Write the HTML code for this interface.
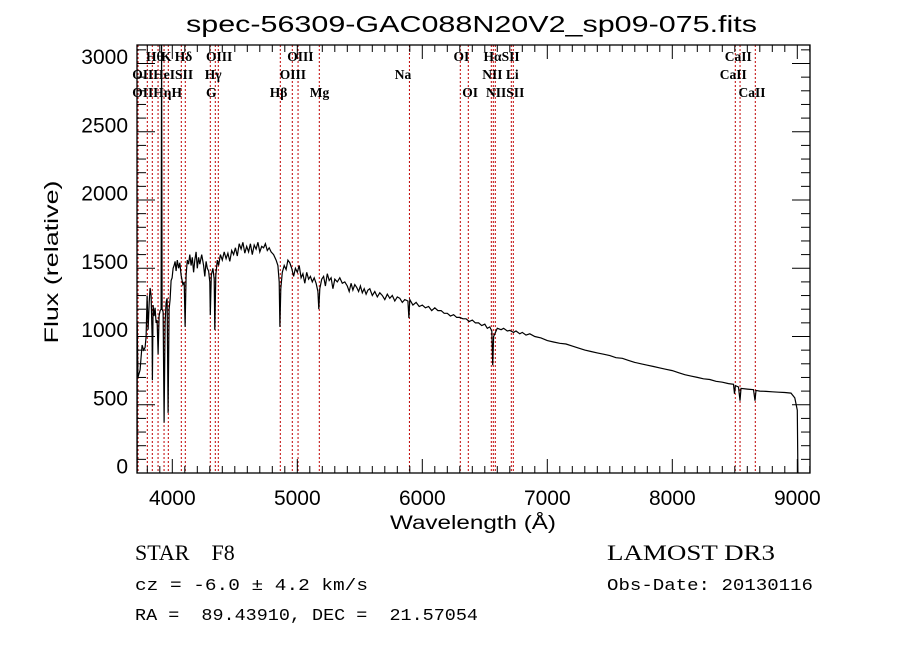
<!DOCTYPE html>
<html><head><meta charset="utf-8"><style>
html,body{margin:0;padding:0;background:#fff;}
svg{display:block;}
.t{font-family:"Liberation Sans",sans-serif;}
.s{font-family:"Liberation Serif",serif;}
.m{font-family:"Liberation Mono",monospace;}
</style></head><body>
<svg id="chart" width="900" height="649" viewBox="0 0 900 649">
<text class="t" x="186" y="32" font-size="23" textLength="571" lengthAdjust="spacingAndGlyphs">spec-56309-GAC088N20V2_sp09-075.fits</text>
<text class="t" x="390" y="529" font-size="19" textLength="166" lengthAdjust="spacingAndGlyphs">Wavelength (Å)</text>
<text class="t" x="0" y="0" font-size="19" text-anchor="middle" textLength="163" lengthAdjust="spacingAndGlyphs" transform="translate(58,262) rotate(-90)">Flux (relative)</text>
<g id="lines"></g>
<g id="labels"></g>
<g id="axes"></g>
<path id="spec" fill="none" stroke="#000" stroke-width="1.2"/>
<text class="s" x="135" y="560" font-size="22" xml:space="preserve">STAR    F8</text>
<text class="m" x="135" y="590" font-size="17" textLength="233" lengthAdjust="spacingAndGlyphs">cz = -6.0 ± 4.2 km/s</text>
<text class="m" x="135" y="620" font-size="17" xml:space="preserve" textLength="343" lengthAdjust="spacingAndGlyphs">RA =  89.43910, DEC =  21.57054</text>
<text class="s" x="607" y="560" font-size="22" textLength="168" lengthAdjust="spacingAndGlyphs">LAMOST DR3</text>
<text class="m" x="607" y="590" font-size="17" textLength="206" lengthAdjust="spacingAndGlyphs">Obs-Date: 20130116</text>
</svg>
<script>
const wave=[3718,3719,3725,3742,3750,3758,3770,3782,3790,3798,3806,3815,3822,3830,3838,3841,3846,3854,3862,3870,3878,3886,3894,3902,3910,3914,3918,3926,3934,3942,3950,3958,3966,3974,3982,3990,3998,4006,4014,4022,4030,4040,4050,4060,4070,4085,4095,4102,4110,4120,4130,4140,4150,4160,4170,4180,4190,4200,4210,4220,4235,4250,4260,4270,4280,4290,4300,4304,4312,4325,4335,4340,4348,4360,4370,4385,4400,4415,4430,4445,4460,4475,4490,4505,4520,4535,4550,4565,4580,4595,4610,4625,4640,4655,4670,4685,4700,4715,4730,4745,4760,4775,4790,4810,4830,4845,4855,4861,4868,4880,4895,4910,4925,4940,4955,4970,4985,5000,5015,5030,5045,5060,5075,5090,5105,5120,5135,5150,5165,5172,5180,5195,5210,5225,5240,5255,5270,5285,5300,5320,5340,5360,5380,5400,5415,5430,5445,5460,5475,5490,5505,5520,5535,5550,5565,5580,5600,5620,5640,5660,5680,5700,5720,5740,5760,5780,5800,5820,5840,5860,5885,5893,5900,5925,5950,5975,6000,6025,6050,6075,6100,6125,6150,6175,6200,6225,6250,6275,6300,6325,6350,6375,6400,6425,6450,6475,6500,6520,6540,6556,6563,6570,6600,6630,6650,6680,6700,6730,6750,6780,6800,6830,6860,6900,6950,7000,7050,7100,7150,7200,7250,7300,7350,7400,7450,7500,7550,7600,7650,7700,7750,7800,7850,7900,7950,8000,8050,8100,8150,8200,8250,8300,8350,8400,8450,8490,8498,8505,8530,8542,8550,8600,8650,8662,8670,8700,8750,8800,8850,8900,8950,8980,9000,9005];
const flux=[0,1100,700,755,850,938,900,920,1000,1300,1050,1250,1355,1300,1000,680,1230,1150,1210,1100,1120,870,1150,1190,1200,3135,1200,1180,370,1100,1250,1280,440,1200,1270,1410,1430,1500,1520,1550,1480,1560,1500,1540,1450,1380,1400,1070,1450,1560,1530,1600,1520,1580,1470,1560,1620,1500,1580,1530,1600,1520,1440,1550,1500,1480,1400,1157,1450,1500,1420,1048,1450,1560,1520,1600,1560,1620,1570,1610,1550,1630,1600,1650,1590,1680,1640,1690,1610,1660,1620,1680,1600,1670,1640,1690,1620,1660,1650,1680,1630,1650,1620,1600,1560,1520,1400,1070,1350,1470,1520,1490,1560,1540,1500,1440,1500,1470,1520,1430,1460,1390,1470,1420,1440,1400,1430,1390,1330,1200,1350,1420,1440,1370,1460,1410,1430,1350,1420,1400,1430,1390,1400,1370,1330,1390,1340,1380,1360,1330,1370,1320,1350,1310,1340,1350,1300,1330,1290,1320,1300,1270,1310,1280,1300,1260,1290,1280,1250,1270,1260,1135,1270,1230,1250,1220,1230,1210,1220,1190,1210,1190,1190,1170,1170,1150,1160,1140,1140,1130,1130,1110,1120,1100,1100,1080,1090,1060,1070,1040,790,1000,1060,1050,1060,1040,1045,1030,1040,1020,1030,1010,1020,1000,990,970,960,950,945,930,915,900,890,880,870,860,845,840,825,810,800,790,780,770,760,750,735,720,710,700,690,685,672,665,655,650,580,640,630,530,620,615,610,530,605,600,598,595,592,590,585,550,460,0];
const xTicks=[4000,5000,6000,7000,8000,9000];
const yTicks=[0,500,1000,1500,2000,2500,3000];
const lineWaves=[3726,3800,3840,3886,3934,3968,4072,4104,4304,4344,4368,4864,4960,5006,5176,5897,6304,6368,6552,6568,6584,6712,6728,8504,8542,8664];
const labelText=["Hθ","K","Hδ","OIII","OIII","OI","HαSII","CaII","OIIHeISII","Hγ","OIII","Na","NII Li","CaII","OIIHηH","G","Hβ","Mg","OI","NIISII","CaII"];
const labelRow=[0,0,0,0,0,0,0,0,1,1,1,1,1,1,2,2,2,2,2,2,2];
const labelWave=[3790,3910,4020,4270,4920,6250,6490,8420,3680,4260,4860,5780,6480,8380,3680,4270,4780,5100,6320,6510,8530];

const L=137,R=810,T=45,B=473;
const X=w=>172.3+(w-4000)*0.125;
const Y=f=>B-f*0.1365;
const NS="http://www.w3.org/2000/svg";
function mk(tag,attrs,parent){const e=document.createElementNS(NS,tag);for(const k in attrs)e.setAttribute(k,attrs[k]);parent.appendChild(e);return e;}

const lg=document.getElementById('lines');
lineWaves.forEach(w=>{
  const l=mk('line',{x1:X(w),x2:X(w),y1:T,y2:B,stroke:'#c00000','stroke-width':1,'stroke-dasharray':'2,2'},lg);
  
  
});
const lb=document.getElementById('labels');
const rowY=[61,79,97];
labelText.forEach((t,i)=>{
  const e=mk('text',{x:X(labelWave[i]),y:rowY[labelRow[i]],'font-size':13.5,'font-weight':'bold',class:'s','xml:space':'preserve'},lb);
  e.textContent=t;
  
  
});

const ax=document.getElementById('axes');
const fr=mk('rect',{x:L,y:T,width:R-L,height:B-T,fill:'none',stroke:'#000','stroke-width':1.3},ax);


for(let w=3800;w<=9100;w+=100){
  const maj=w%1000===0,len=maj?14:7,x=X(w);
  mk('line',{x1:x,x2:x,y1:B,y2:B-len,stroke:'#000'},ax);
  mk('line',{x1:x,x2:x,y1:T,y2:T+len,stroke:'#000'},ax);
}
for(let f=100;f<=3100;f+=100){
  const maj=f%500===0,len=maj?18:9,y=Y(f);
  if(y<T)continue;
  mk('line',{x1:L,x2:L+len,y1:y,y2:y,stroke:'#000'},ax);
  mk('line',{x1:R,x2:R-len,y1:y,y2:y,stroke:'#000'},ax);
}
xTicks.forEach(v=>{
  const e=mk('text',{x:X(v),y:505,'font-size':21,'text-anchor':'middle',class:'t'},ax);
  e.textContent=v;
  
  
});
yTicks.forEach(v=>{
  const e=mk('text',{x:128,y:Y(v)+0.5,'font-size':21,'text-anchor':'end',class:'t'},ax);
  e.textContent=v;
  
  
});

let d='';
wave.forEach((w,i)=>{d+=(i?'L':'M')+X(w).toFixed(1)+','+Y(flux[i]).toFixed(1);});
document.getElementById('spec').setAttribute('d',d);
</script>
</body></html>
